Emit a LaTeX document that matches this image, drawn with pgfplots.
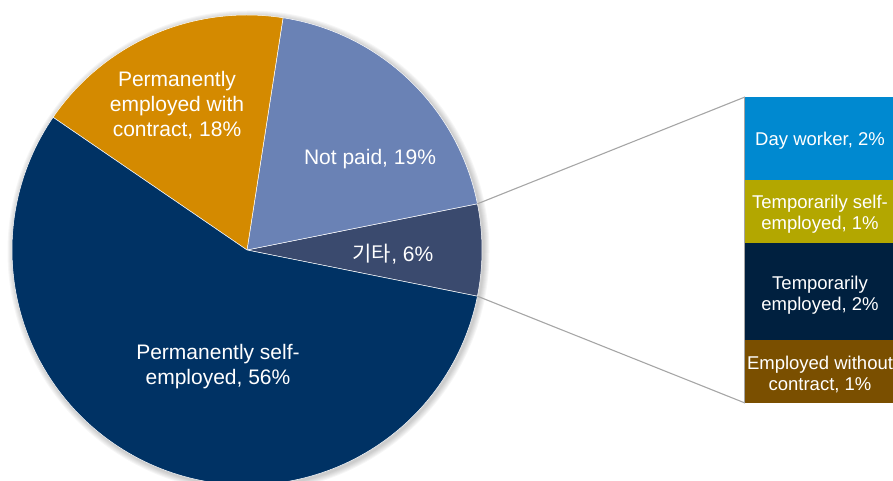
\documentclass[border=0pt]{standalone}
\usepackage{pgfplots}
\pgfplotsset{compat=1.18}
\usepackage{fontspec}
\setmainfont{Liberation Sans}
\newfontfamily\kr{Noto Sans CJK KR}

\definecolor{cSelf}{HTML}{003264}
\definecolor{cContract}{HTML}{D48A00}
\definecolor{cNotPaid}{HTML}{6A82B5}
\definecolor{cOther}{HTML}{3A4A6E}
\definecolor{cDay}{HTML}{0089D0}
\definecolor{cTempSelf}{HTML}{B3A700}
\definecolor{cTempEmp}{HTML}{00203F}
\definecolor{cWithout}{HTML}{7A4F00}
\definecolor{cLink}{HTML}{A6A6A6}

% shares of the pie (percent)
\def\vOther{6.3}
\def\vNotPaid{19.4}
\def\vContract{17.9}
\def\vSelf{56.4}
% breakdown of the "other" slice (percent)
\def\vWithout{1.3}
\def\vTempEmp{2.0}
\def\vTempSelf{1.3}
\def\vDay{1.7}

% pie geometry (axis units = pt)
\def\cx{247}
\def\cy{231}
\def\R{235}
% bar geometry: baseline and pt per percent
\def\bBase{78}
\def\bScale{48.5714}

\pgfmathsetmacro\aA{-1.8*\vOther}
\pgfmathsetmacro\aB{\aA+3.6*\vOther}
\pgfmathsetmacro\aC{\aB+3.6*\vNotPaid}
\pgfmathsetmacro\aD{\aC+3.6*\vContract}
\pgfmathsetmacro\aE{\aD+3.6*\vSelf}

% label centres of the bar segments, in pt
\pgfmathsetmacro\yA{\bBase+\bScale*(\vWithout/2)}
\pgfmathsetmacro\yB{\bBase+\bScale*(\vWithout+\vTempEmp/2)}
\pgfmathsetmacro\yC{\bBase+\bScale*(\vWithout+\vTempEmp+\vTempSelf/2)}
\pgfmathsetmacro\yD{\bBase+\bScale*(\vWithout+\vTempEmp+\vTempSelf+\vDay/2)}
\pgfmathsetmacro\yTop{\bBase+\bScale*(\vWithout+\vTempEmp+\vTempSelf+\vDay)}

\newcommand{\pielabel}{\fontsize{21}{25}\selectfont}
\newcommand{\barlabel}{\fontsize{18.5}{21}\selectfont}
\tikzset{
  pie lbl/.style={white, align=center, font=\pielabel, yshift=-2pt},
  bar lbl/.style={white, align=center, font=\barlabel, yshift=-3.5pt},
}

\begin{document}
\begin{tikzpicture}
% ---------------- breakdown bar ----------------
\begin{axis}[
  hide axis, scale only axis,
  width=893pt, height=481pt,
  xmin=0, xmax=893, ymin=-1.6059, ymax=8.2971,
  anchor=south west, at={(0,0)},
  ybar stacked, bar width=150,
]
  \addplot[fill=cWithout, draw=none] coordinates {(820,\vWithout)};
  \addplot[fill=cTempEmp, draw=none] coordinates {(820,\vTempEmp)};
  \addplot[fill=cTempSelf, draw=none] coordinates {(820,\vTempSelf)};
  \addplot[fill=cDay, draw=none] coordinates {(820,\vDay)};
\end{axis}

% ---------------- pie ----------------
\begin{axis}[
  hide axis, scale only axis,
  width=893pt, height=481pt,
  xmin=0, xmax=893, ymin=0, ymax=481,
  anchor=south west, at={(0,0)},
]
  % soft shadow
  \pgfplotsinvokeforeach{1,...,6}{
    \fill[black, opacity=0.035] (axis cs:248.5,229.5) circle [radius=\R+#1];
  }
  \addplot[fill=cOther, draw=white, line width=0.5pt, domain=\aA:\aB, samples=40, variable=\t]
    ({\cx+\R*cos(t)}, {\cy+\R*sin(t)}) -- (axis cs:\cx,\cy) -- cycle;
  \addplot[fill=cNotPaid, draw=white, line width=0.5pt, domain=\aB:\aC, samples=80, variable=\t]
    ({\cx+\R*cos(t)}, {\cy+\R*sin(t)}) -- (axis cs:\cx,\cy) -- cycle;
  \addplot[fill=cContract, draw=white, line width=0.5pt, domain=\aC:\aD, samples=80, variable=\t]
    ({\cx+\R*cos(t)}, {\cy+\R*sin(t)}) -- (axis cs:\cx,\cy) -- cycle;
  \addplot[fill=cSelf, draw=white, line width=0.5pt, domain=\aD:\aE, samples=200, variable=\t]
    ({\cx+\R*cos(t)}, {\cy+\R*sin(t)}) -- (axis cs:\cx,\cy) -- cycle;

  % connectors to the breakdown bar
  \draw[cLink, line width=1.1pt] (axis cs:{\cx+\R*cos(\aB)},{\cy+\R*sin(\aB)}) -- (axis cs:745,\yTop);
  \draw[cLink, line width=1.1pt] (axis cs:{\cx+\R*cos(\aA)},{\cy+\R*sin(\aA)}) -- (axis cs:745,\bBase);
  \draw[cLink, line width=1.1pt] (axis cs:744.5,\yTop) -- (axis cs:744.5,\bBase);

  \node[pie lbl] at (axis cs:370,324) {Not paid, 19\%};
  \node[pie lbl] at (axis cs:393,229) {{\kr 기타}, 6\%};
  \node[pie lbl] at (axis cs:177,378) {Permanently\\employed with\\contract, 18\%};
  \node[pie lbl] at (axis cs:218,116) {Permanently self-\\employed, 56\%};

  \node[bar lbl] at (axis cs:820,\yA) {Employed without\\contract, 1\%};
  \node[bar lbl] at (axis cs:820,\yB) {Temporarily\\employed, 2\%};
  \node[bar lbl] at (axis cs:820,\yC) {Temporarily self-\\employed, 1\%};
  \node[bar lbl, yshift=1.5pt] at (axis cs:820,\yD) {Day worker, 2\%};
\end{axis}
\pgfresetboundingbox
\useasboundingbox (0,0) rectangle (893pt,481pt);
\end{tikzpicture}
\end{document}
